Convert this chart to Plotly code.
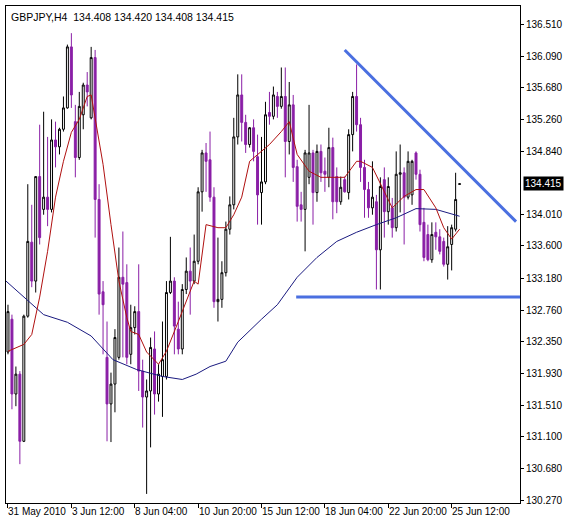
import plotly.graph_objects as go

# GBPJPY H4 candles, 31 May 2010 .. 25 Jun 2010
opens = [132.21, 132.64, 131.66, 131.92, 131.04, 132.68, 133.65, 133.14, 134.51, 134.08,
         134.24, 134.08, 134.99, 134.90, 135.13, 135.41, 136.21, 135.23, 134.76, 135.32,
         135.71, 135.28, 136.07, 134.21, 133.00, 132.14, 131.53, 131.79, 132.14, 133.19,
         133.12, 132.18, 132.53, 132.74, 131.96, 131.62, 131.70, 132.25, 131.66, 131.89,
         131.89, 132.99, 133.14, 132.51, 132.25, 133.03, 133.27, 133.14, 133.40, 134.31,
         134.82, 134.73, 134.24, 132.87, 132.90, 133.25, 133.82, 134.14, 135.03, 135.58,
         135.22, 134.93, 135.15, 134.77, 134.30, 134.44, 135.35, 135.30, 135.56, 135.43,
         135.56, 134.97, 135.45, 134.64, 134.14, 134.08, 134.50, 134.82, 134.30, 134.84,
         134.58, 134.50, 134.89, 134.51, 134.18, 134.47, 134.30, 135.06, 135.56, 135.19,
         134.63, 134.34, 134.10, 134.18, 133.55, 134.47, 134.05, 134.10, 133.84, 134.54,
         134.56, 134.24, 134.27, 134.82, 134.54, 133.91, 133.75, 133.42, 133.78, 133.72,
         133.66, 133.36, 133.62, 133.82, 134.408]
highs = [132.83, 132.70, 132.02, 131.96, 132.70, 134.41, 134.14, 134.51, 135.19, 135.36,
         135.03, 135.26, 135.23, 135.15, 135.56, 136.24, 136.39, 135.45, 135.62, 135.74,
         135.88, 136.21, 136.17, 134.41, 133.14, 132.61, 131.94, 132.51, 133.58, 133.79,
         133.36, 132.83, 132.81, 133.36, 132.11, 131.85, 132.40, 132.48, 132.05, 132.61,
         133.14, 133.72, 133.19, 132.87, 133.10, 133.45, 133.58, 133.75, 134.37, 134.86,
         134.95, 135.10, 134.37, 133.71, 133.40, 133.92, 134.25, 135.28, 135.85, 135.85,
         135.32, 135.16, 135.26, 135.06, 135.03, 135.49, 135.62, 135.69, 135.62, 135.94,
         135.94, 135.75, 135.58, 134.73, 134.31, 134.86, 135.45, 134.86, 134.93, 134.93,
         134.76, 135.15, 135.02, 134.63, 134.51, 134.51, 135.13, 135.62, 135.98, 135.28,
         134.73, 134.44, 134.71, 134.27, 134.50, 134.63, 134.50, 134.23, 134.84, 134.93,
         134.63, 134.84, 134.73, 134.84, 134.60, 134.10, 133.88, 133.91, 133.91, 133.82,
         133.71, 133.86, 133.88, 134.56, 134.420]
lows = [132.18, 131.46, 131.50, 130.74, 131.03, 132.66, 133.06, 132.99, 133.62, 134.01,
        133.86, 134.04, 134.63, 134.80, 135.10, 135.40, 135.41, 134.50, 134.73, 135.13,
        135.43, 135.26, 133.71, 132.70, 132.18, 131.04, 131.03, 131.42, 132.11, 132.14,
        132.05, 132.05, 132.44, 131.70, 131.22, 130.35, 130.96, 131.39, 131.56, 131.36,
        131.85, 132.97, 132.18, 132.18, 132.18, 132.97, 132.70, 133.10, 133.36, 134.05,
        134.31, 134.18, 132.79, 132.61, 132.79, 133.20, 133.75, 134.08, 134.93, 134.97,
        134.82, 134.89, 134.71, 133.88, 133.88, 134.41, 135.19, 135.26, 135.28, 135.40,
        134.50, 134.80, 134.44, 133.92, 133.92, 133.53, 134.41, 133.88, 134.18, 134.44,
        134.31, 134.37, 133.95, 134.03, 134.14, 134.30, 134.21, 134.84, 135.10, 134.44,
        133.97, 133.97, 134.01, 133.03, 133.03, 133.71, 133.88, 133.71, 133.79, 134.04,
        133.62, 134.21, 134.14, 134.47, 133.79, 133.40, 133.40, 133.38, 133.55, 133.49,
        133.33, 133.16, 133.28, 133.79, 134.408]
closes = [132.74, 131.66, 131.92, 131.04, 132.68, 133.66, 133.14, 134.51, 133.71, 134.24,
          134.08, 134.99, 134.90, 135.13, 135.41, 136.21, 135.58, 134.76, 135.43, 135.71,
          135.62, 136.07, 134.21, 132.97, 132.83, 131.53, 131.79, 132.40, 133.19, 133.10,
          132.14, 132.53, 132.74, 131.96, 131.62, 131.70, 132.27, 131.66, 131.92, 132.11,
          132.99, 133.14, 132.55, 132.25, 133.03, 133.27, 133.14, 133.40, 134.31, 134.82,
          134.71, 134.24, 132.87, 132.90, 133.25, 133.82, 134.14, 135.03, 135.58, 135.22,
          134.93, 135.15, 134.84, 134.27, 134.44, 135.32, 135.30, 135.58, 135.43, 135.56,
          134.97, 135.45, 134.63, 134.12, 134.08, 134.82, 134.82, 134.30, 134.84, 134.56,
          134.54, 134.89, 134.18, 134.18, 134.37, 134.31, 135.06, 135.56, 135.19, 134.63,
          134.34, 134.10, 134.24, 133.55, 134.38, 134.05, 134.38, 133.84, 134.54, 134.56,
          134.24, 134.71, 134.71, 134.54, 133.88, 133.45, 133.42, 133.75, 133.72, 133.53,
          133.36, 133.59, 133.84, 134.21, 134.415]

# fast moving average (red), sampled at candle index
ma_fast_idx = [0, 4, 6, 8, 10, 12, 14, 16, 18, 20, 21, 22, 24, 26, 28, 30, 31, 33, 35, 38,
               40, 43, 47, 48, 50, 53, 55, 57, 59, 61, 66, 69, 71, 73, 76, 79, 82, 85, 88, 89,
               92, 95, 97, 100, 103, 105, 108, 110, 112, 114]
ma_fast = [132.22, 132.31, 132.44, 132.93, 133.53, 134.24, 134.71, 135.09, 135.26, 135.56,
           135.58, 135.26, 134.67, 133.88, 133.14, 132.66, 132.48, 132.44, 132.21, 132.05,
           132.22, 132.61, 133.14, 133.10, 133.88, 133.84, 133.84, 134.01, 134.24, 134.71,
           134.93, 135.10, 135.23, 134.80, 134.58, 134.50, 134.50, 134.50, 134.71, 134.71,
           134.63, 134.31, 134.10, 134.25, 134.34, 134.34, 134.10, 133.84, 133.69, 133.82]

# slow moving average (navy)
ma_slow_idx = [-0.5, 9, 15, 21, 26.5, 32.5, 39, 44, 47.5, 51, 55, 58, 64, 68, 73, 78, 83,
               88, 93, 98, 103, 108, 114]
ma_slow = [133.14, 132.70, 132.60, 132.42, 132.11, 131.98, 131.89, 131.85, 131.92, 132.02,
           132.09, 132.34, 132.64, 132.83, 133.19, 133.45, 133.66, 133.78, 133.88, 133.97,
           134.09, 134.08, 133.99]

price_ticks = [136.510, 136.090, 135.680, 135.260, 134.840, 134.010, 133.600, 133.180,
               132.760, 132.350, 131.930, 131.510, 131.100, 130.680, 130.270]
time_labels = ["31 May 2010", "3 Jun 12:00", "8 Jun 04:00", "10 Jun 20:00",
               "15 Jun 12:00", "18 Jun 04:00", "22 Jun 20:00", "25 Jun 12:00"]
time_idx = [0, 16, 32, 48, 64, 80, 96, 112]

# hand-drawn trend lines (candle index, price)
resist_line = ([85, 128.25], [136.17, 133.92])
support_line = ([72.75, 130.25], [132.93, 132.93])

PURPLE = "#8a1fa6"
FONT = "Liberation Sans"
x = list(range(len(opens)))

fig = go.Figure()
fig.add_trace(go.Candlestick(
    x=x, open=opens, high=highs, low=lows, close=closes,
    increasing=dict(line=dict(color="black", width=1), fillcolor="white"),
    decreasing=dict(line=dict(color=PURPLE, width=1), fillcolor=PURPLE),
    whiskerwidth=0, hoverinfo="skip",
))
fig.add_trace(go.Scatter(x=ma_slow_idx, y=ma_slow, mode="lines",
                         line=dict(color="#1a1a80", width=1)))
fig.add_trace(go.Scatter(x=ma_fast_idx, y=ma_fast, mode="lines",
                         line=dict(color="#b01010", width=1)))
for lx, ly in (resist_line, support_line):
    fig.add_trace(go.Scatter(x=lx, y=ly, mode="lines",
                             line=dict(color="#4a6fe0", width=3)))

annotations = [dict(text="GBPJPY,H4  134.408 134.420 134.408 134.415", xref="paper",
                    yref="paper", x=0.006, y=0.993, xanchor="left", yanchor="top",
                    showarrow=False, font=dict(size=10.5, color="black"))]
for i, t in zip(time_idx, time_labels):
    annotations.append(dict(text=t, xref="x", yref="paper", x=i - 0.4, y=0,
                            yshift=-1, xanchor="left", yanchor="top", showarrow=False,
                            font=dict(size=10, color="black")))
annotations.append(dict(text="134.415", xref="paper", yref="y", x=1, y=closes[-1],
                        xanchor="left", xshift=3, showarrow=False, bgcolor="black",
                        font=dict(size=10, color="white"), borderpad=1))

fig.update_layout(
    width=568, height=523, showlegend=False,
    margin=dict(l=5, r=44, t=5, b=20),
    paper_bgcolor="white", plot_bgcolor="white",
    font=dict(family=FONT, size=10, color="black"),
    annotations=annotations,
    xaxis=dict(range=[-0.5, 129.25], rangeslider=dict(visible=False), showgrid=False,
               zeroline=False, showline=True, linecolor="black", mirror=True,
               tickvals=time_idx, showticklabels=False, ticks="outside", ticklen=4,
               tickcolor="black"),
    yaxis=dict(range=[130.231, 136.746], side="right", showgrid=False, zeroline=False,
               showline=True, linecolor="black", mirror=True, tickvals=price_ticks,
               ticktext=[f"{v:.3f}" for v in price_ticks], ticks="outside", ticklen=3,
               tickcolor="black"),
)

# drop the default page margin so the chart sits flush in the window
fig.write_html("out.html", config={"displayModeBar": False},
               post_script="document.body.style.margin='0';")
